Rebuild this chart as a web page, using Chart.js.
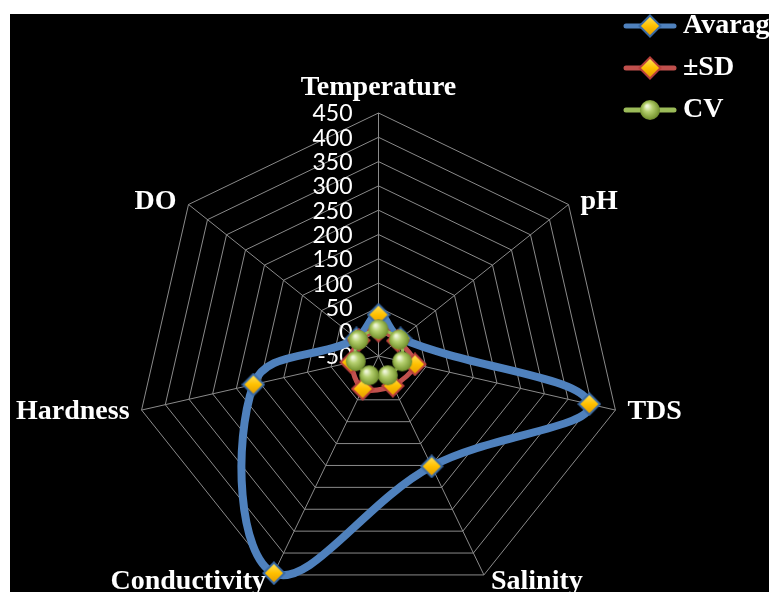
<!DOCTYPE html>
<html>
<head>
<meta charset="utf-8">
<title>Water quality radar</title>
<script src="https://cdn.jsdelivr.net/npm/chart.js@4.4.1/dist/chart.umd.min.js"></script>
<style>
  html, body { margin: 0; padding: 0; background: #fff; overflow: hidden; }
  #wrap { position: absolute; left: 10px; top: 14px; width: 800px; height: 578px; background: #000; }
</style>
</head>
<body>
<div id="wrap"><canvas id="radar" width="800" height="578"></canvas></div>
<script>
// categories and series
const parameters = ['Temperature', 'pH', 'TDS', 'Salinity', 'Conductivity', 'Hardness', 'DO'];
const avarageValues = [35, 8, 395, 202, 446, 214, 8];
const sdValues = [2, 0.5, 27, 18, 25, 8, 1.5];
const cvValues = [5, 4, 0, -6, -6, -2, 3];
const tickLabels = ['-50', '0', '50', '100', '150', '200', '250', '300', '350', '400', '450'];

const BLUE = '#4f81bd';
const RED = '#c0504d';
const GREEN = '#9bbb59';
const LABEL_FONT = 'bold 28px "Liberation Serif"';

// gold diamond marker with coloured rim
function diamond(edge) {
  const c = document.createElement('canvas');
  c.width = 24; c.height = 24;
  const g = c.getContext('2d');
  const grad = g.createLinearGradient(0, 2, 0, 22);
  grad.addColorStop(0, '#ffe45c');
  grad.addColorStop(0.5, '#ffc000');
  grad.addColorStop(1, '#e39a00');
  g.beginPath();
  g.moveTo(12, 1.5); g.lineTo(22.5, 12); g.lineTo(12, 22.5); g.lineTo(1.5, 12);
  g.closePath();
  g.fillStyle = grad;
  g.fill();
  g.lineWidth = 2;
  g.strokeStyle = edge;
  g.stroke();
  return c;
}

// shaded green ball marker
function sphere() {
  const c = document.createElement('canvas');
  c.width = 22; c.height = 22;
  const g = c.getContext('2d');
  const grad = g.createRadialGradient(8, 7, 1, 11, 11, 11);
  grad.addColorStop(0, '#eef5d8');
  grad.addColorStop(0.35, '#b5d06f');
  grad.addColorStop(0.8, '#7f9d38');
  grad.addColorStop(1, '#5e7726');
  g.beginPath();
  g.arc(11, 11, 10, 0, Math.PI * 2);
  g.fillStyle = grad;
  g.fill();
  return c;
}

// legend sample: short line with the marker on it
function legendSymbol(color, marker) {
  const c = document.createElement('canvas');
  c.width = 54; c.height = 24;
  const g = c.getContext('2d');
  g.strokeStyle = color;
  g.lineWidth = 5;
  g.lineCap = 'round';
  g.beginPath();
  g.moveTo(3, 12); g.lineTo(51, 12);
  g.stroke();
  g.drawImage(marker, 27 - marker.width / 2, 12 - marker.height / 2);
  return c;
}

const blueDiamond = diamond('#3a6aa5');
const redDiamond = diamond('#b8403c');
const greenBall = sphere();
const legendSymbols = [
  legendSymbol(BLUE, blueDiamond),
  legendSymbol(RED, redDiamond),
  legendSymbol(GREEN, greenBall)
];

// tick numbers and axis names
const scaleText = {
  id: 'scaleText',
  beforeDatasetsDraw(chart) {
    const r = chart.scales.r;
    const ctx = chart.ctx;
    ctx.save();
    ctx.fillStyle = '#ffffff';

    ctx.font = '23px Lato';
    ctx.textAlign = 'right';
    ctx.textBaseline = 'middle';
    r.ticks.forEach((tick) => {
      const d = r.getDistanceFromCenterForValue(tick.value);
      ctx.fillText(tick.label, r.xCenter - 26, r.yCenter - d + 1);
    });

    ctx.font = LABEL_FONT;
    ctx.textBaseline = 'alphabetic';
    parameters.forEach((name, i) => {
      const p = r.getPointPosition(i, r.drawingArea);
      const sx = Math.cos(p.angle);
      const sy = Math.sin(p.angle);
      let x = p.x;
      let y;
      if (Math.abs(sx) < 0.05) {
        ctx.textAlign = 'center';
      } else {
        ctx.textAlign = sx > 0 ? 'left' : 'right';
        x += Math.sign(sx) * (sy > 0.8 ? 7 : 12);
      }
      if (sy < -0.95) y = p.y - 18;
      else if (sy > 0.8) y = p.y + 14;
      else y = p.y + 8 + 6 * sy;
      ctx.fillText(name, x, y);
    });
    ctx.restore();
  }
};

// keep the legend in the top right corner
const legendCorner = {
  id: 'legendCorner',
  afterLayout(chart) {
    const lg = chart.legend;
    const w = lg.width;
    lg.left = 607;
    lg.right = 607 + w;
    lg.top = -16;
  }
};

new Chart(document.getElementById('radar'), {
  type: 'radar',
  data: {
    labels: parameters,
    datasets: [
      {
        label: 'Avarage',
        data: avarageValues,
        borderColor: BLUE,
        backgroundColor: BLUE,
        borderWidth: 8,
        tension: 0.4,
        pointStyle: blueDiamond,
        pointRadius: 10,
        order: 3
      },
      {
        label: '±SD',
        data: sdValues,
        borderColor: RED,
        backgroundColor: RED,
        borderWidth: 5,
        tension: 0.3,
        pointStyle: redDiamond,
        pointRadius: 10,
        order: 2
      },
      {
        label: 'CV',
        data: cvValues,
        borderColor: GREEN,
        backgroundColor: GREEN,
        borderWidth: 3,
        tension: 0.3,
        pointStyle: greenBall,
        pointRadius: 10,
        order: 1
      }
    ]
  },
  options: {
    responsive: false,
    animation: false,
    devicePixelRatio: 1,
    layout: { padding: 0 },
    elements: {
      line: { fill: false, capBezierPoints: false }
    },
    datasets: { radar: { clip: false } },
    scales: {
      r: {
        min: -50,
        max: 450,
        ticks: {
          stepSize: 50,
          display: false,
          callback: (value, index) => tickLabels[index]
        },
        grid: { color: '#8a8a8a', lineWidth: 1 },
        angleLines: { color: '#8a8a8a', lineWidth: 1 },
        pointLabels: { display: false },
        afterFit(scale) {
          scale.xCenter = 368.5;
          scale.yCenter = 342;
          scale.drawingArea = 243;
        }
      }
    },
    plugins: {
      tooltip: { enabled: false },
      legend: {
        position: 'right',
        align: 'start',
        labels: {
          color: '#ffffff',
          font: { family: 'Liberation Serif', weight: 'bold', size: 28 },
          usePointStyle: true,
          pointStyleWidth: 38,
          padding: 14,
          generateLabels(chart) {
            return Chart.defaults.plugins.legend.labels.generateLabels(chart).map((item) => {
              item.pointStyle = legendSymbols[item.datasetIndex];
              return item;
            });
          },
          sort: (a, b) => a.datasetIndex - b.datasetIndex
        }
      }
    }
  },
  plugins: [scaleText, legendCorner]
});
</script>
</body>
</html>
